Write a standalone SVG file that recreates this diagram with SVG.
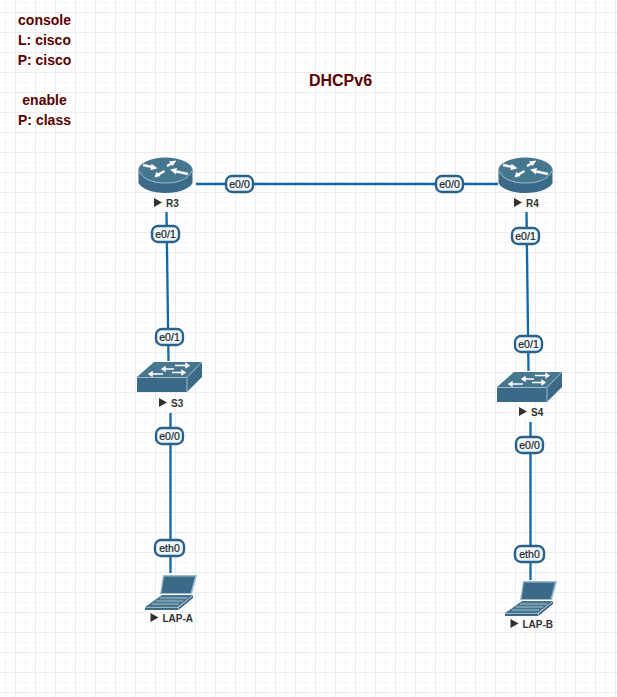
<svg xmlns="http://www.w3.org/2000/svg" width="617" height="697" viewBox="0 0 617 697">
<style>
.note{font:bold 14px "Liberation Sans",Arial,sans-serif;fill:#5a0000;text-anchor:middle}
.lbl{font:bold 10px "Liberation Sans",Arial,sans-serif;fill:#333}
.if{font:10.500px "Liberation Sans",Arial,sans-serif;fill:#222;text-anchor:middle;stroke:#222;stroke-width:.2}
.pill{fill:#eef7fc;stroke:#2b6188;stroke-width:2.400}
.link{stroke:#0f68a8;stroke-width:2.300;fill:none}
.d{fill:#3a6a87}.l{fill:#47768f}.w{fill:#fff}
.e{fill:none;stroke:#9dbccd;stroke-width:1}
.tri{fill:#33302e}
.ar{stroke:#fff;stroke-width:2.400;fill:none}
</style>
<defs>
<pattern id="g" width="10" height="10" patternUnits="userSpaceOnUse" x="5" y="2">
<path d="M.5 0V10M0 .5H10" fill="none" stroke="#f6f6f6" stroke-width="1"/>
</pattern>
<pattern id="G" width="20" height="20" patternUnits="userSpaceOnUse" x="15" y="12">
<path d="M.5 0V20M0 .5H20" fill="none" stroke="#ececec" stroke-width="1"/>
</pattern>
<g id="router">
<path class="d" d="M0 13V26C3 32 14 36 27 36S51 32 54 26V13Z"/>
<ellipse class="l" cx="27" cy="13" rx="27" ry="12.500"/>
<path class="e" d="M.5 14C4 22 14 26 27 26S50 22 53.500 14"/>
<path class="ar" d="M4.500 8L13 9.800M34 6L28.500 9M49.500 17L38 14.500M19 18L26 14"/>
<path class="w" d="M19 11.200L12 13.200 13 6.800ZM38 3.500L30.500 4.500 34 9ZM31.500 12.500L38.500 11 37.500 17.500ZM16 20.500L18 14.800 22 19Z"/>
</g>
<g id="switch">
<path class="d" d="M0 16H50V31H0Z"/>
<path class="d" d="M50 16L65 1V16L50 31Z"/>
<path class="l" d="M0 16L17 1H65L50 16Z"/>
<path class="e" d="M0 16.500H50L65 1M50 16.500V31"/>
<path d="M25 8H37M25 8L28 6V10Z M38 4.500H52M52 4.500L49 2.500V6.500Z M35 11.500H48M48 11.500L45 9.500V13.500Z M12 13H26M12 13L15 11V15Z" stroke="#fff" stroke-width="1.400" fill="#fff"/>
</g>
<g id="laptop">
<path d="M18 0H52L47 19H15Z" fill="#9dbccd"/>
<path class="d" d="M19 1.500H50L45.500 18H16.500Z"/>
<path class="l" d="M17 20H48L33 32H0Z"/>
<path d="M15 23H42M11 26H38M7 29H34" fill="none" stroke="#cfdfe8" stroke-width=".7"/>
<path class="d" d="M0 32.500H33V35H0ZM33.500 32.500L48 20.500V23L33.500 35Z"/>
</g>
<path id="t" class="tri" d="M0 0L8 4.500 0 9Z"/>
</defs>
<rect width="617" height="697" fill="#fff"/>
<rect width="617" height="697" fill="url(#g)"/>
<rect width="617" height="697" fill="url(#G)"/>
<g id="notes">
<text class="note" x="44.500" y="25">console</text>
<text class="note" x="44.500" y="45">L: cisco</text>
<text class="note" x="44.500" y="65">P: cisco</text>
<text class="note" x="44.500" y="105">enable</text>
<text class="note" x="44.500" y="125">P: class</text>
<text class="note" x="340.500" y="86" style="font-size:16px">DHCPv6</text>
</g>
<g id="connectors">
<path class="link" d="M196 184H498"/>
<path class="link" d="M166.500 212L168.500 361"/>
<path class="link" d="M526.500 212L528.500 371"/>
<path class="link" d="M170.500 413V573"/>
<path class="link" d="M530.500 422V580"/>
</g>
<g id="labels">
<g><rect class="pill" x="226" y="176" width="27" height="16" rx="6"/><text class="if" x="239.500" y="187.500">e0/0</text></g>
<g><rect class="pill" x="436" y="176" width="27" height="16" rx="6"/><text class="if" x="449.500" y="187.500">e0/0</text></g>
<g><rect class="pill" x="152" y="226" width="27" height="16" rx="6"/><text class="if" x="165.500" y="237.500">e0/1</text></g>
<g><rect class="pill" x="512" y="228" width="27" height="16" rx="6"/><text class="if" x="525.500" y="239.500">e0/1</text></g>
<g><rect class="pill" x="156" y="329" width="27" height="16" rx="6"/><text class="if" x="169.500" y="340.500">e0/1</text></g>
<g><rect class="pill" x="515" y="336" width="27" height="16" rx="6"/><text class="if" x="528.500" y="347.500">e0/1</text></g>
<g><rect class="pill" x="156" y="428" width="27" height="16" rx="6"/><text class="if" x="169.500" y="439.500">e0/0</text></g>
<g><rect class="pill" x="516" y="437" width="27" height="16" rx="6"/><text class="if" x="529.500" y="448.500">e0/0</text></g>
<g><rect class="pill" x="155" y="540" width="29" height="16" rx="6"/><text class="if" x="169.500" y="551.500">eth0</text></g>
<g><rect class="pill" x="515" y="546" width="29" height="16" rx="6"/><text class="if" x="529.500" y="557.500">eth0</text></g>
</g>
<g id="R3"><use href="#router" x="138.500" y="157"/><use href="#t" x="154" y="198"/><text class="lbl" x="166" y="207">R3</text></g>
<g id="R4"><use href="#router" x="498.500" y="157"/><use href="#t" x="514" y="198"/><text class="lbl" x="526" y="207">R4</text></g>
<g id="S3"><use href="#switch" x="137" y="361"/><use href="#t" x="159" y="398"/><text class="lbl" x="171" y="407">S3</text></g>
<g id="S4"><use href="#switch" x="497" y="371"/><use href="#t" x="519" y="407"/><text class="lbl" x="531" y="416">S4</text></g>
<g id="LAP-A"><use href="#laptop" x="145" y="575"/><use href="#t" x="150.500" y="613"/><text class="lbl" x="162.500" y="622">LAP-A</text></g>
<g id="LAP-B"><use href="#laptop" x="505" y="581"/><use href="#t" x="510.500" y="619"/><text class="lbl" x="522.500" y="628">LAP-B</text></g>
</svg>
